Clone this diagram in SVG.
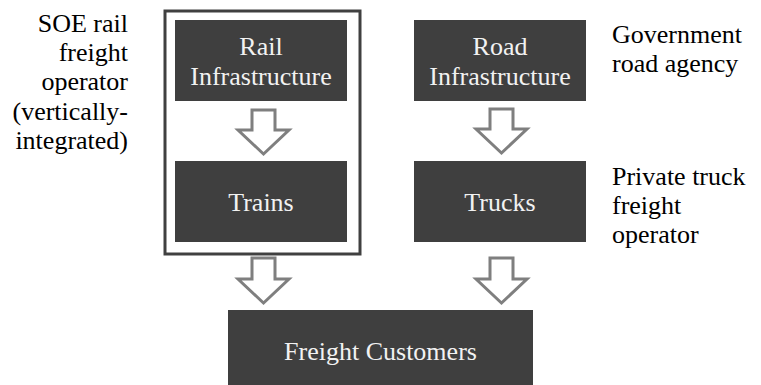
<svg xmlns="http://www.w3.org/2000/svg" width="761" height="385" viewBox="0 0 761 385">
<defs>
<style>
.box{fill:#3f3f3f}
.arr{fill:#fff;stroke:#7f7f7f;stroke-width:3;stroke-linejoin:miter}
</style>
</defs>
<rect width="761" height="385" fill="#fff"/>
<g id="frame"><rect x="165" y="11" width="195" height="243" fill="none" stroke="#404040" stroke-width="3"/></g>
<g font-size="26" font-family="'Liberation Serif'" fill="#f2f2f2" text-anchor="middle">
<g id="rail-infra"><rect class="box" x="175" y="20" width="172" height="81"/><text x="261" y="55">Rail</text><text x="261" y="85">Infrastructure</text></g>
<g id="trains"><rect class="box" x="175" y="161" width="172" height="81"/><text x="261" y="211">Trains</text></g>
<g id="road-infra"><rect class="box" x="414" y="20" width="172" height="81"/><text x="500" y="55">Road</text><text x="500" y="85">Infrastructure</text></g>
<g id="trucks"><rect class="box" x="414" y="161" width="172" height="81"/><text x="500" y="211">Trucks</text></g>
<g id="customers"><rect class="box" x="228" y="310" width="305" height="76"/><text x="380.5" y="360">Freight Customers</text></g>
</g>
<g font-size="26" font-family="'Liberation Serif'" fill="#000">
<g id="label-soe"><text text-anchor="end"><tspan x="128" y="32">SOE rail</tspan><tspan x="128" y="61">freight</tspan><tspan x="128" y="90">operator</tspan><tspan x="128" y="120">(vertically-</tspan><tspan x="128" y="149">integrated)</tspan></text></g>
<g id="label-gov"><text><tspan x="612" y="43">Government</tspan><tspan x="612" y="72">road agency</tspan></text></g>
<g id="label-private"><text><tspan x="612" y="185">Private truck</tspan><tspan x="612" y="214">freight</tspan><tspan x="612" y="243">operator</tspan></text></g>
</g>
<g id="connectors">
<path class="arr" d="M252,110 H275 V130 H289 L263.5,154 L238,130 H252 Z"/>
<path class="arr" d="M490,109 H513 V129 H527 L501.5,153 L476,129 H490 Z"/>
<path class="arr" d="M252,258 H275 V279 H289 L263.5,303 L238,279 H252 Z"/>
<path class="arr" d="M490,258 H513 V279 H527 L501.5,303 L476,279 H490 Z"/>
</g>
</svg>
